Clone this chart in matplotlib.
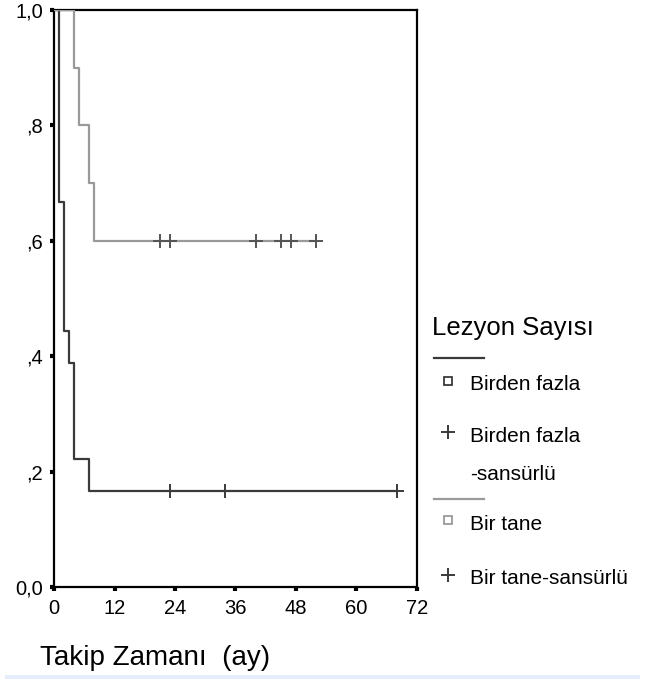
import matplotlib.pyplot as plt
from matplotlib.lines import Line2D
from matplotlib.patches import Rectangle

plt.rcParams['font.family'] = ['Liberation Sans', 'DejaVu Sans']

# Kaplan-Meier steps, "Birden fazla" group
t_multi = [0, 1, 2, 3, 4, 7, 68]
s_multi = [1.0, 0.667, 0.444, 0.389, 0.222, 0.167, 0.167]
cens_multi_t = [23, 34, 68]
cens_multi_s = [0.167, 0.167, 0.167]

# "Bir tane" group
t_single = [0, 4, 5, 7, 8, 52]
s_single = [1.0, 0.9, 0.8, 0.7, 0.6, 0.6]
cens_single_t = [21, 23, 40, 45, 47, 52]
cens_single_s = [0.6, 0.6, 0.6, 0.6, 0.6, 0.6]

xticks = [0, 12, 24, 36, 48, 60, 72]
yticks = [0, 0.2, 0.4, 0.6, 0.8, 1.0]
ylabels = ['0,0', ',2', ',4', ',6', ',8', '1,0']

dark = '#3a3a3a'
gray = '#9a9a9a'

W, H = 657, 679
fig = plt.figure(figsize=(W / 100, H / 100), dpi=100)
ax = fig.add_axes([54 / W, 1 - 587 / H, (417 - 54) / W, (587 - 10) / H])

ax.plot(t_multi, s_multi, drawstyle='steps-post', color=dark, lw=1.6, zorder=3)
ax.plot(t_single, s_single, drawstyle='steps-post', color=gray, lw=1.6, zorder=3)
ax.plot(cens_multi_t, cens_multi_s, ls='none', marker='+', ms=10, mew=1.4, color=dark, zorder=4)
ax.plot(cens_single_t, cens_single_s, ls='none', marker='+', ms=10, mew=1.4, color='#555555', zorder=4)

ax.set_xlim(0, 72)
ax.set_ylim(0, 1.0)
ax.set_xticks(xticks)
ax.set_yticks(yticks)
ax.set_yticklabels(ylabels)
for sp in ax.spines.values():
    sp.set_linewidth(1.6)
    sp.set_color('black')
ax.tick_params(direction='out', length=3, width=3, labelsize=14.5, color='black')
ax.tick_params(axis='x', pad=6)
ax.tick_params(axis='y', pad=5)

fig.text(40 / W, 1 - 658 / H, 'Takip Zamanı  (ay)', fontsize=20, va='center', ha='left')


# legend drawn by hand
def fx(x):
    return x / W


def fy(y):
    return 1 - y / H


fig.text(fx(432), fy(328), 'Lezyon Sayısı', fontsize=18.5, va='center', ha='left')
fig.add_artist(Line2D([fx(434), fx(484)], [fy(358), fy(358)], color=dark, lw=1.6))
fig.add_artist(Line2D([fx(448)], [fy(381)], marker='s', ms=6, mfc='white', mec=dark, mew=1.3))
fig.text(fx(470), fy(384), 'Birden fazla', fontsize=15, va='center')
fig.add_artist(Line2D([fx(448)], [fy(432)], marker='+', ms=10, mew=1.4, color=dark))
fig.text(fx(470), fy(437), 'Birden fazla', fontsize=15, va='center')
fig.text(fx(470), fy(474), '-sansürlü', fontsize=15, va='center')
fig.add_artist(Line2D([fx(434), fx(484)], [fy(499), fy(499)], color=gray, lw=1.6))
fig.add_artist(Line2D([fx(448)], [fy(520)], marker='s', ms=6, mfc='white', mec=gray, mew=1.3))
fig.text(fx(470), fy(524), 'Bir tane', fontsize=15, va='center')
fig.add_artist(Line2D([fx(448)], [fy(575)], marker='+', ms=10, mew=1.4, color=dark))
fig.text(fx(470), fy(579), 'Bir tane-sansürlü', fontsize=15, va='center')

fig.add_artist(Rectangle((fx(5), 0), fx(640) - fx(5), 4 / H, color='#e3eef8', lw=0))

fig.savefig('out.png', dpi=100)
